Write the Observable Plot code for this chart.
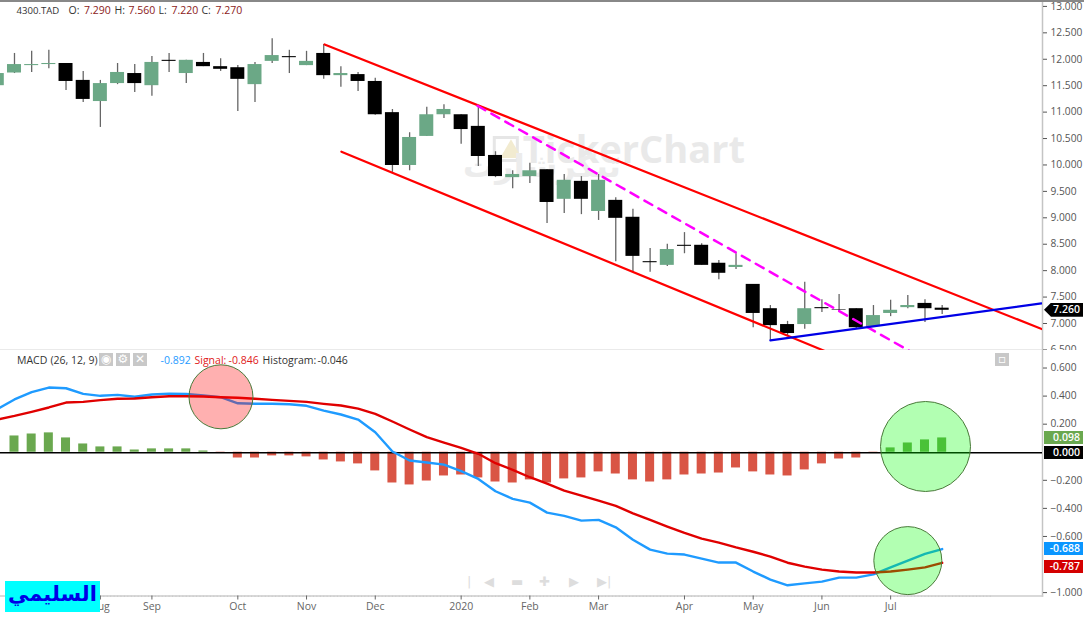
<!DOCTYPE html>
<html><head><meta charset="utf-8">
<script src="https://cdn.jsdelivr.net/npm/d3@7"></script>
<script src="https://cdn.jsdelivr.net/npm/@observablehq/plot@0.6"></script>
<style>
html,body{margin:0;padding:0;background:#fff;overflow:hidden}
#root{position:relative;width:1084px;height:617px;font-family:"Open Sans",sans-serif}
#root svg{display:block;background:transparent}
#topline{position:absolute;left:0;top:0;width:1084px;height:2px;background:#888}
.tag{position:absolute;left:1044px;width:39px;height:13px;line-height:13px;text-align:right;color:#fff;font-size:10.5px;font-weight:600}
.tag span{padding-right:3px}
.ic{position:absolute;top:353px;width:14px;height:13px;background:#c8c8c8;color:#fff;text-align:center;font-size:12px;line-height:13px;font-family:"DejaVu Sans"}
.nav{position:absolute;top:574px;color:#ddd;font-size:13px;line-height:16px;font-family:"DejaVu Sans"}
#logo{position:absolute;left:5px;top:581px;width:95px;height:31px;background:#00ffff;color:#0000e6;font:bold 21px/26px "DejaVu Sans";text-align:center;direction:rtl}
</style></head><body><div id="root"></div>
<script>
const opens  = [11.50,11.74,11.88,11.90,11.92,11.60,11.20,11.54,11.73,11.50,11.98,11.73,11.94,11.86,11.84,11.52,11.96,12.05,11.88,12.11,11.69,11.71,11.58,10.99,9.99,10.54,10.95,10.95,10.73,10.18,9.76,9.78,9.91,9.35,9.69,9.12,9.33,9.01,8.17,8.10,8.48,8.48,8.14,8.06,7.74,7.28,6.98,6.98,7.30,7.26,7.28,6.94,7.19,7.30,7.38,7.29];
const closes = [11.73,11.90,11.90,11.92,11.58,11.24,11.54,11.75,11.54,11.94,11.96,11.98,11.86,11.81,11.62,11.90,12.07,12.03,11.96,11.69,11.73,11.58,10.95,9.99,10.52,10.95,11.05,10.67,10.16,9.78,9.82,9.89,9.29,9.71,9.35,9.71,8.99,8.27,8.15,8.40,8.46,8.10,7.95,8.10,7.19,6.96,6.81,7.28,7.28,7.25,6.92,7.15,7.25,7.34,7.28,7.25];
const highs  = [11.73,12.11,12.15,12.17,11.92,11.77,11.60,11.92,11.90,12.05,12.11,11.98,12.11,12.01,11.88,11.94,12.39,12.17,12.15,12.28,11.86,11.75,11.64,11.05,10.61,11.09,11.14,10.95,11.12,10.25,9.89,10.03,9.91,9.82,9.78,9.82,9.38,9.16,8.42,8.50,8.72,8.51,8.19,8.32,7.74,7.34,7.04,7.78,7.45,7.55,7.28,7.34,7.44,7.53,7.45,7.34];
const lows   = [11.50,11.73,11.75,11.82,11.41,11.18,10.71,11.52,11.37,11.30,11.75,11.54,11.86,11.77,11.01,11.18,11.92,11.73,11.88,11.62,11.47,11.39,10.94,9.86,9.89,10.54,10.88,10.39,9.97,9.76,9.55,9.65,8.89,9.08,9.06,8.95,8.17,7.98,7.97,8.08,8.32,8.10,7.83,8.02,6.92,6.68,6.77,6.89,7.21,7.21,6.89,6.94,7.13,7.28,7.02,7.17];
const macdLine = [.307,.376,.428,.461,.456,.416,.402,.409,.395,.411,.418,.416,.404,.392,.349,.345,.345,.342,.331,.297,.269,.233,.143,.005,-.059,-.073,-.088,-.135,-.190,-.278,-.332,-.359,-.430,-.453,-.487,-.482,-.535,-.624,-.694,-.722,-.729,-.758,-.786,-.786,-.850,-.907,-.948,-.934,-.922,-.893,-.893,-.870,-.820,-.772,-.724,-.690];
const signalLine = [.233,.259,.288,.319,.354,.359,.371,.381,.383,.392,.399,.399,.397,.392,.388,.381,.373,.366,.359,.345,.333,.311,.274,.219,.162,.108,.069,.031,-.011,-.078,-.125,-.178,-.223,-.273,-.309,-.344,-.382,-.435,-.482,-.530,-.575,-.615,-.644,-.678,-.709,-.744,-.787,-.815,-.836,-.850,-.857,-.857,-.850,-.836,-.820,-.788];
const histogram = [null,.116,.130,.138,.102,.059,.038,.038,.016,.024,.024,.024,.009,-.009,-.041,-.041,-.026,-.026,-.033,-.055,-.069,-.083,-.133,-.219,-.233,-.205,-.169,-.162,-.183,-.212,-.219,-.197,-.219,-.190,-.183,-.140,-.155,-.197,-.212,-.197,-.162,-.155,-.148,-.112,-.140,-.162,-.169,-.126,-.083,-.048,-.041,-.009,.031,.066,.088,.102];
const priceTicks = [6.5,7,7.5,8,8.5,9,9.5,10,10.5,11,11.5,12,12.5,13];
const macdTicks = [.6,.4,.2,-.2,-.4,-.6,-1];
const monthTicks = [6,9,14,18,22,27,31,35,40,44,48,52];
const monthLabels = ["Aug","Sep","Oct","Nov","Dec","2020","Feb","Mar","Apr","May","Jun","Jul"];
const channelUpper = [[19.05,12.28],[60.84,6.89]];
const channelLower = [[20.03,10.25],[48.38,6.45]];
const dashedTrend = [[27.95,11.12],[53.15,6.47]];
const blueTrend = [[45.0,6.68],[60.78,7.38]];
const header = [["4300.TAD",16,"#333",9.6],["O:",68,"#333",10.5],["7.290",83.5,"#8b1a1a",10.5],["H:",114,"#333",10.5],["7.560",128,"#8b1a1a",10.5],["L:",158,"#333",10.5],["7.220",171,"#8b1a1a",10.5],["C:",201,"#333",10.5],["7.270",215,"#8b1a1a",10.5]];
const macdHeader = [["MACD",16.5,"#333",10.5],["(26, 12, 9)",50,"#333",10.5],["-0.892",160,"#1f9bff",10.5],["Signal:",194,"#e02020",10.5],["-0.846",228,"#e02020",10.5],["Histogram:",262,"#333",10.5],["-0.046",317,"#333",10.5]];

const GREEN="#6ba886", FONT="Open Sans", XDOM=[0.186,60.84];
const candles = opens.map((o,i)=>({i,open:o,close:closes[i],high:highs[i],low:lows[i]}));
const macdRows = macdLine.map((m,i)=>({i,macd:m,signal:signalLine[i],hist:histogram[i]}));
const pts = a=>a.map(([i,p])=>({i,p}));
const headerMarks = (rows,dy)=>rows.map(([t,dx,c,fs])=>Plot.text([t],{text:d=>d,frameAnchor:"top-left",dx,dy,textAnchor:"start",lineAnchor:"middle",fill:c,fontSize:fs,fontFamily:FONT}));

const pricePlot = Plot.plot({
  width:1084,height:350,marginLeft:0,marginRight:42,marginTop:0,marginBottom:0,
  style:{background:"transparent",fontFamily:FONT},
  x:{domain:XDOM,axis:null},y:{domain:[6.489,13.112],axis:null},
  marks:[
    Plot.frame({anchor:"bottom",stroke:"#aaa",strokeWidth:1.5}),
    Plot.frame({anchor:"right",stroke:"#c4c4c4",strokeWidth:1.5}),
    Plot.dot([{i:29.6,p:10.3}],{x:"i",y:"p",symbol:"square",r:13,stroke:"#e6e6e6",strokeWidth:3,fill:"none"}),
    Plot.dot([{i:29.9,p:10.25}],{x:"i",y:"p",symbol:"triangle",r:8,fill:"#f2ebd0"}),
    Plot.text(["TickerChart"],{x:()=>37.05,y:()=>10.27,fontSize:38,fontWeight:700,fill:"#e9e9e9",fontFamily:FONT}),
    Plot.text(["تيكرشارت"],{x:()=>31.7,y:()=>9.97,fontSize:32,fontWeight:700,fill:"#ececec",fontFamily:"DejaVu Sans"}),
    Plot.ruleX(candles,{x:"i",y1:"low",y2:"high",stroke:"#666",strokeWidth:1.3,clip:true}),
    Plot.rect(candles,{x1:d=>d.i-.407,x2:d=>d.i+.407,y1:"open",y2:"close",fill:d=>d.close>=d.open?GREEN:"#000",clip:true}),
    Plot.line(pts(channelUpper),{x:"i",y:"p",stroke:"#f00",strokeWidth:2.2,clip:true}),
    Plot.line(pts(channelLower),{x:"i",y:"p",stroke:"#f00",strokeWidth:2.2,clip:true}),
    Plot.line(pts(dashedTrend),{x:"i",y:"p",stroke:"#f0f",strokeWidth:2.5,strokeDasharray:"9,7",clip:true}),
    Plot.line(pts(blueTrend),{x:"i",y:"p",stroke:"#0000e6",strokeWidth:2.2,clip:true}),
    Plot.axisY(priceTicks,{anchor:"right",tickSize:4,tickPadding:4,tickFormat:d3.format(".3f"),fontSize:10.2,fontFamily:FONT,color:"#555",label:null}),
    ...headerMarks(header,10)
  ]
});

const macdPlot = Plot.plot({
  width:1084,height:267,marginLeft:0,marginRight:42,marginTop:0,marginBottom:21.5,
  style:{background:"transparent",fontFamily:FONT},
  x:{domain:XDOM,axis:null},y:{domain:[-1.0242,.7249],axis:null},
  marks:[
    Plot.frame({anchor:"right",stroke:"#c4c4c4",strokeWidth:1.5}),
    Plot.frame({anchor:"bottom",stroke:"#ccc",strokeWidth:1.5}),
    Plot.rect(macdRows.filter(d=>d.hist!==null),{x1:d=>d.i-.262,x2:d=>d.i+.262,y1:()=>0,y2:"hist",fill:d=>d.hist>=0?"#6aa84f":"#d95545",clip:true}),
    Plot.ruleY([0],{stroke:"#000",strokeWidth:1.3,dy:.5}),
    Plot.line(macdRows,{x:"i",y:"macd",stroke:"#1f9bff",strokeWidth:2.4,clip:true}),
    Plot.line(macdRows,{x:"i",y:"signal",stroke:"#e00000",strokeWidth:2.4,clip:true}),
    Plot.dot([{i:13.02,v:.395}],{x:"i",y:"v",r:32,fill:"#f00",fillOpacity:.31,stroke:"#4a7a3a",strokeWidth:1}),
    Plot.dot([{i:54.03,v:.041}],{x:"i",y:"v",r:45,fill:"#0f0",fillOpacity:.3,stroke:"#4a7a3a",strokeWidth:1}),
    Plot.dot([{i:53.0,v:-.772}],{x:"i",y:"v",r:34,fill:"#0f0",fillOpacity:.3,stroke:"#4a7a3a",strokeWidth:1}),
    Plot.axisY(macdTicks,{anchor:"right",tickSize:4,tickPadding:4,tickFormat:d3.format(".3f"),fontSize:10.2,fontFamily:FONT,color:"#555",label:null}),
    Plot.axisX(d3.range(3,58,.2),{anchor:"bottom",tickSize:1.5,tickFormat:()=>"",color:"#ccc",label:null}),
    Plot.axisX(monthTicks,{anchor:"bottom",tickSize:4,tickPadding:3,tickFormat:d=>monthLabels[monthTicks.indexOf(d)],fontSize:10.5,fontFamily:FONT,color:"#666",label:null}),
    ...headerMarks(macdHeader,10)
  ]
});

const root=document.getElementById("root");
root.append(pricePlot,macdPlot);
const tl=document.createElement("div");tl.id="topline";root.append(tl);
const yP=v=>pricePlot.scale("y").apply(v), yM=v=>350+macdPlot.scale("y").apply(v);
function tag(text,top,bg,extra){const e=document.createElement("div");e.className="tag";e.style.top=(top-6.5)+"px";e.style.background=bg;e.innerHTML="<span>"+text+"</span>";if(extra)extra(e);root.append(e);}
tag("7.260",yP(7.26),"#000",e=>{e.style.clipPath="polygon(0 50%,7px 0,100% 0,100% 100%,7px 100%)";e.style.height="14px";});
tag("0.098",yM(.098),"#6aa84f");
tag("0.000",yM(0)+1,"#000");
tag("-0.688",yM(-.688),"#0a96ff");
tag("-0.787",yM(-.787)+4.5,"#d40000");
[[99,"◉"],[116,"⚙"],[133,"✕"]].forEach(([x,g])=>{const e=document.createElement("div");e.className="ic";e.style.left=x+"px";e.textContent=g;root.append(e);});
const mx=document.createElement("div");mx.className="ic";mx.style.left="995px";mx.textContent="▫";root.append(mx);
[[467,"|"],[484,"◀"],[511,"▬"],[539,"✚"],[569,"▶"],[597,"▶"],[607,"|"]].forEach(([x,g])=>{const e=document.createElement("div");e.className="nav";e.style.left=x+"px";e.textContent=g;root.append(e);});
const lg=document.createElement("div");lg.id="logo";lg.textContent="السليمي";root.append(lg);
</script></body></html>
